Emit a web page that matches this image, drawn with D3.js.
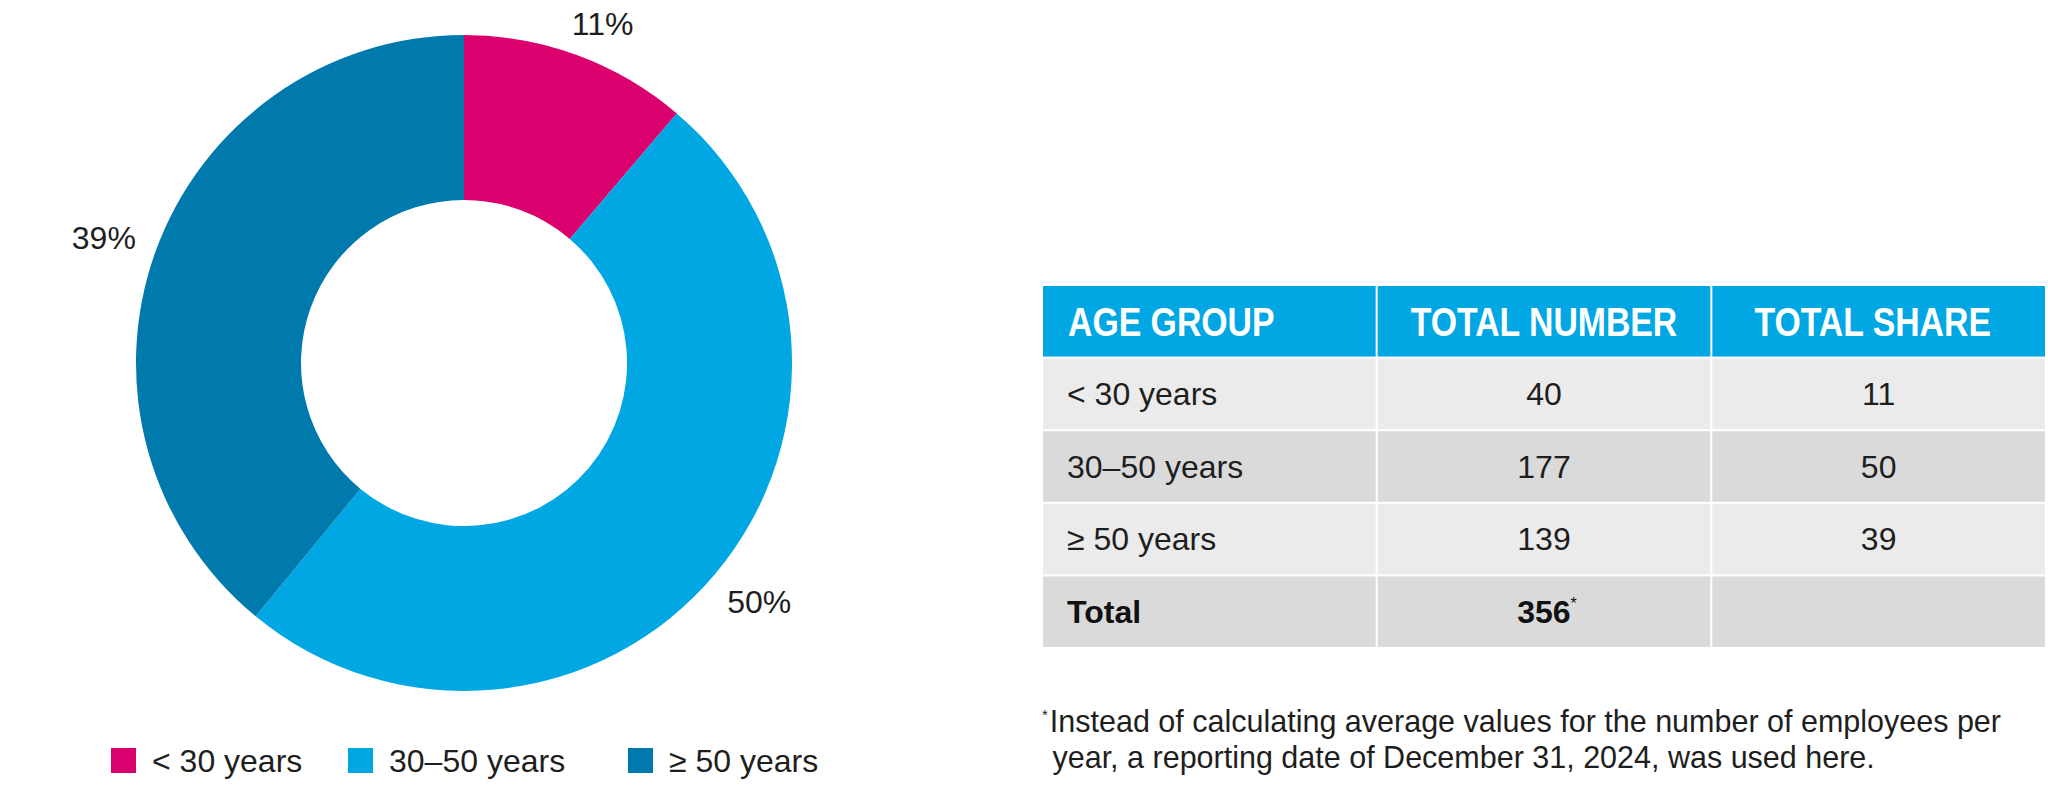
<!DOCTYPE html>
<html>
<head>
<meta charset="utf-8">
<script src="https://cdn.jsdelivr.net/npm/d3@7/dist/d3.min.js"></script>
<style>
  html, body { margin: 0; padding: 0; background: #ffffff; }
  svg { display: block; }
  text { font-family: "Liberation Sans", Arial, sans-serif; }
</style>
</head>
<body>
<svg id="chart" width="2048" height="800"></svg>
<script>
// ---- data ----
const categories = ["< 30 years", "30–50 years", "≥ 50 years"];
const counts = [40, 177, 139];
const shares = [11, 50, 39];
const shareLabels = ["11%", "50%", "39%"];
const sliceColors = ["#da006e", "#00a7e3", "#0079ac"];
const headers = ["AGE GROUP", "TOTAL NUMBER", "TOTAL SHARE"];
const totalLabel = "Total";
const totalCount = "356";
const footnoteLines = [
  "Instead of calculating average values for the number of employees per",
  " year, a reporting date of December 31, 2024, was used here."
];

const svg = d3.select("#chart");

// ---- donut ----
const cx = 464, cy = 363, outerR = 328, innerR = 163, labelR = 372;
const pie = d3.pie().sort(null).value(d => d.count);
const pieData = pie(categories.map((c, i) => ({ cat: c, count: counts[i], label: shareLabels[i], color: sliceColors[i] })));
const arc = d3.arc().innerRadius(innerR).outerRadius(outerR);
const labelArc = d3.arc().innerRadius(labelR).outerRadius(labelR);

const gPie = svg.append("g").attr("transform", `translate(${cx},${cy})`);
gPie.selectAll("path").data(pieData).join("path")
  .attr("d", arc)
  .attr("fill", d => d.data.color);

function labelPos(d) {
  const [x, y] = labelArc.centroid(d);
  const nx = x + (x >= 0 ? 10 : -10);
  const ny = Math.max(y, 23 - cy);
  return [nx, ny];
}
gPie.selectAll("text.lbl").data(pieData).join("text")
  .attr("class", "lbl")
  .attr("x", d => labelPos(d)[0])
  .attr("y", d => labelPos(d)[1])
  .attr("dy", "0.36em")
  .attr("text-anchor", "middle")
  .attr("font-size", 32)
  .attr("fill", "#1e1e1e")
  .text(d => d.data.label);

// ---- legend ----
const legendX = d3.scaleOrdinal().domain(categories).range([111, 348, 628]);
const gLeg = svg.append("g").attr("transform", "translate(0,748)");
const li = gLeg.selectAll("g").data(categories).join("g")
  .attr("transform", d => `translate(${legendX(d)},0)`);
li.append("rect").attr("width", 25).attr("height", 25)
  .attr("fill", (d, i) => sliceColors[i]);
li.append("text").attr("x", 41).attr("y", 24)
  .attr("font-size", 32).attr("fill", "#1e1e1e")
  .text(d => d);

// ---- table ----
const rowKeys = ["header", ...categories, "total"];
const xCol = d3.scaleBand().domain(headers).range([1043, 2045]).paddingInner(0.006);
const yRow = d3.scaleBand().domain(rowKeys).range([286, 647]).paddingInner(0.028);
const rowFill = (k, i) => k === "header" ? "#00a7e3" : (i % 2 === 1 ? "#ebebeb" : "#dadada");

const gTab = svg.append("g");
rowKeys.forEach((k, ri) => {
  headers.forEach(h => {
    gTab.append("rect")
      .attr("x", xCol(h)).attr("y", yRow(k))
      .attr("width", xCol.bandwidth()).attr("height", yRow.bandwidth())
      .attr("fill", rowFill(k, ri));
  });
});

// header text (condensed bold)
headers.forEach((h, i) => {
  const left = i === 0;
  const x = left ? xCol(h) + 25 : xCol(h) + xCol.bandwidth() / 2 - (i === 2 ? 6 : 0);
  const y = yRow("header") + yRow.bandwidth() / 2 + 15;
  gTab.append("text")
    .attr("transform", `translate(${x},${y}) scale(0.845,1)`)
    .attr("text-anchor", left ? "start" : "middle")
    .attr("font-size", 40).attr("font-weight", "bold")
    .attr("fill", "#ffffff")
    .text(h);
});

// body rows
categories.forEach((c, i) => {
  const yMid = yRow(c) + yRow.bandwidth() / 2 + 11;
  gTab.append("text").attr("x", xCol(headers[0]) + 24).attr("y", yMid)
    .attr("font-size", 32).attr("fill", "#1e1e1e").text(c);
  gTab.append("text").attr("x", xCol(headers[1]) + xCol.bandwidth() / 2).attr("y", yMid)
    .attr("text-anchor", "middle").attr("font-size", 32).attr("fill", "#1e1e1e").text(counts[i]);
  gTab.append("text").attr("x", xCol(headers[2]) + xCol.bandwidth() / 2).attr("y", yMid)
    .attr("text-anchor", "middle").attr("font-size", 32).attr("fill", "#1e1e1e").text(shares[i]);
});

// total row
{
  const yMid = yRow("total") + yRow.bandwidth() / 2 + 11;
  gTab.append("text").attr("x", xCol(headers[0]) + 24).attr("y", yMid)
    .attr("font-size", 32).attr("font-weight", "bold").attr("fill", "#111").text(totalLabel);
  const t = gTab.append("text").attr("x", xCol(headers[1]) + xCol.bandwidth() / 2 + 3).attr("y", yMid)
    .attr("text-anchor", "middle").attr("font-size", 32).attr("font-weight", "bold").attr("fill", "#111");
  t.append("tspan").text(totalCount);
  t.append("tspan").attr("font-size", 16).attr("font-weight", "normal").attr("dy", -14).text("*");
}

// ---- footnote ----
const gNote = svg.append("g");
const n1 = gNote.append("text").attr("x", 1042).attr("y", 732).attr("font-size", 30.5).attr("fill", "#1e1e1e");
n1.append("tspan").attr("font-size", 15).attr("dy", -12).text("*");
n1.append("tspan").attr("dy", 12).attr("dx", 2).text(footnoteLines[0]);
gNote.append("text").attr("x", 1044).attr("y", 768).attr("font-size", 30.5).attr("fill", "#1e1e1e")
  .attr("xml:space", "preserve").style("white-space", "pre")
  .text(footnoteLines[1]);
</script>
</body>
</html>
